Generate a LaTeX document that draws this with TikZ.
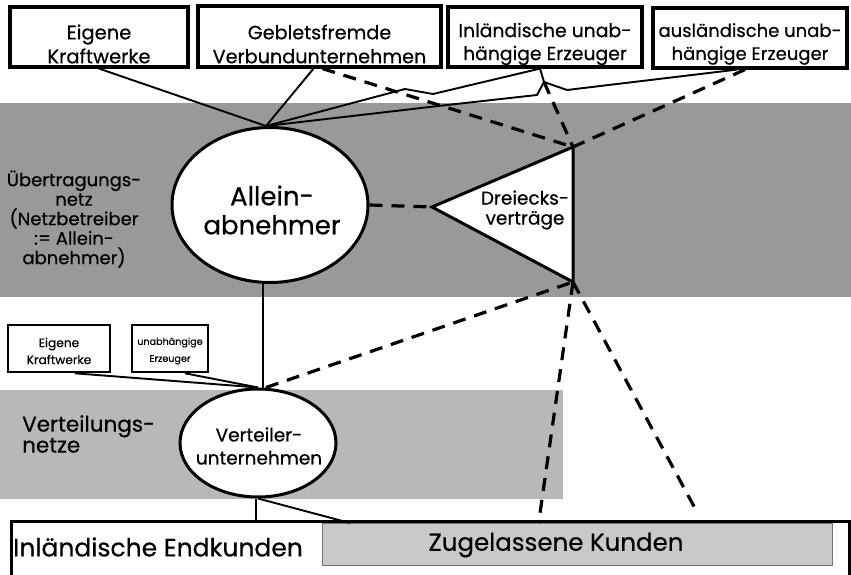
\documentclass[tikz,border=0pt]{standalone}
\usepackage{fontspec}
\setmainfont{Poppins}[FakeBold=0.5]
\usetikzlibrary{shapes.geometric}
\definecolor{bandA}{gray}{0.6}
\definecolor{bandB}{gray}{0.72}
\definecolor{zugfill}{gray}{0.79}
\begin{document}
\begin{tikzpicture}[x=1pt,y=-1pt,
  box/.style={draw, line width=3.2pt, fill=white, inner sep=0pt},
  sbox/.style={draw, line width=2.6pt, fill=white, inner sep=0pt},
  boxtext/.style={align=center, inner sep=0pt},
  stext/.style={align=center, inner sep=0pt},
  oval/.style={ellipse, draw, line width=3pt, fill=white, inner sep=0pt},
  conn/.style={line width=1.9pt},
  dconn/.style={line width=3.2pt, dash pattern=on 13pt off 9pt}]
\useasboundingbox (0,0) rectangle (851,575);
\fill[white] (0,0) rectangle (851,575);
% bands
\fill[bandA] (0,103) rectangle (851,297);
\fill[bandB] (0,390) rectangle (563,499);
% top boxes
\node[box, minimum width=178, minimum height=60] (b1) at (99,37) {};
\node[box, minimum width=243, minimum height=61] (b2) at (319.5,36.5) {};
\node[box, minimum width=194, minimum height=60] (b3) at (545,37) {};
\node[box, minimum width=194, minimum height=60] (b4) at (750,38) {};
% ellipses
\node[oval, minimum width=196, minimum height=155] (alle) at (270,205) {};
\node[oval, minimum width=156, minimum height=108] (vert) at (258,443) {};
% triangle
\coordinate (triL) at (432,207);
\coordinate (triT) at (573,147);
\coordinate (triB) at (573,282);
\draw[line width=3pt, fill=white, line join=miter] (triL) -- (triT) -- (triB) -- cycle;
% small boxes
\node[sbox, minimum width=102, minimum height=47] (s1) at (59,348.5) {};
\node[sbox, minimum width=76, minimum height=47] (s2) at (170,348.5) {};
% bottom boxes
\node[draw, line width=3pt, minimum width=838, minimum height=80, anchor=north west, inner sep=0pt] (endk) at (10,520) {};
\node[draw=black!55, line width=1.2pt, fill=zugfill, minimum width=510, minimum height=42, anchor=north west, inner sep=0pt] (zug) at (322,523) {};
% connector points
\coordinate (atop) at ([xshift=-4pt]alle.north);
\coordinate (j3) at (544,82);
\coordinate (k1) at (567,90);
\coordinate (z1) at (405,89);
\coordinate (z2) at (433,94);
\coordinate (z3) at (447,105);
\coordinate (z4) at (537,95);
\coordinate (dend) at (697,512);
% solid connectors
\draw[conn] (b1.south) -- (atop);
\draw[conn] ([xshift=-6pt]b2.south) -- (atop);
\draw[conn] ([xshift=-5pt]b3.south) -- (j3) -- (k1) -- ([xshift=-13pt]b4.south);
\draw[conn] (atop) -- (z1) -- (z2) -- ([xshift=-5pt]b3.south);
\draw[conn] (atop) -- (z3) -- (z4) -- (j3);
\draw[conn] (alle.265) -- (vert.north -| alle.265);
\draw[conn] ([xshift=16pt]s1.south) -- (vert.north);
\draw[conn] ([xshift=15pt]s2.south) -- (vert.north);
\draw[conn] ([xshift=-2pt]vert.south) -- ([xshift=-2pt]vert.south |- endk.north);
\draw[conn] (vert.south) -- ([xshift=28pt]zug.north west);
% dashed connectors
\draw[dconn] ([xshift=3pt]b2.south) -- (triT);
\draw[dconn] (j3) -- (triT);
\draw[dconn] ([xshift=-5pt]b4.south) -- (triT);
\draw[dconn] (alle.east) -- (triL);
\draw[dconn] ([xshift=8pt]vert.north) -- (triB);
\draw[dconn] (triB) -- ([xshift=-39pt]zug.north);
\draw[dconn] (triB) -- (dend);
% texts
\node[boxtext, font=\fontsize{19.5}{24}\selectfont] (t1) at (99,44) {Eigene\\Kraftwerke};
\node[boxtext, font=\fontsize{19.2}{24}\selectfont] (t2) at (319.5,44) {Gebletsfremde\\Verbundunternehmen};
\node[boxtext, font=\fontsize{18.8}{23}\selectfont] (t3) at (545,44) {Inländische unab-\\hängige Erzeuger};
\node[boxtext, font=\fontsize{18}{23}\selectfont] (t4) at (750,44) {ausländische unab-\\hängige Erzeuger};
\node[align=center, font=\fontsize{26}{29}\selectfont, inner sep=0pt] (allet) at (272,210) {Allein-\\abnehmer};
\node[align=center, font=\fontsize{18.5}{23}\selectfont, inner sep=0pt] (vertt) at (259,446) {Verteiler-\\unternehmen};
\node[align=center, font=\fontsize{18.5}{20}\selectfont, inner sep=0pt] (dvt) at (525,210) {Dreiecks-\\verträge};
\node[align=center, font=\fontsize{18}{19.5}\selectfont, inner sep=0pt] (uebt) at (74,219) {Übertragungs-\\netz\\(Netzbetreiber\\:= Allein-\\abnehmer)};
\node[align=left, anchor=west, font=\fontsize{21.5}{21}\selectfont, inner sep=0pt] (vnt) at (22,434) {Verteilungs-\\netze};
\node[stext, font=\fontsize{12.2}{17}\selectfont] (s1t) at (59,351) {Eigene\\Kraftwerke};
\node[stext, font=\fontsize{9.6}{17}\selectfont] (s2t) at (170,351) {unabhängige\\Erzeuger};
\node[anchor=west, font=\fontsize{25}{28}\selectfont, inner sep=0pt] (endkt) at (13,547) {Inländische Endkunden};
\node[font=\fontsize{24.5}{26}\selectfont, inner sep=0pt] (zugt) at (556,545) {Zugelassene Kunden};
\end{tikzpicture}
\end{document}
